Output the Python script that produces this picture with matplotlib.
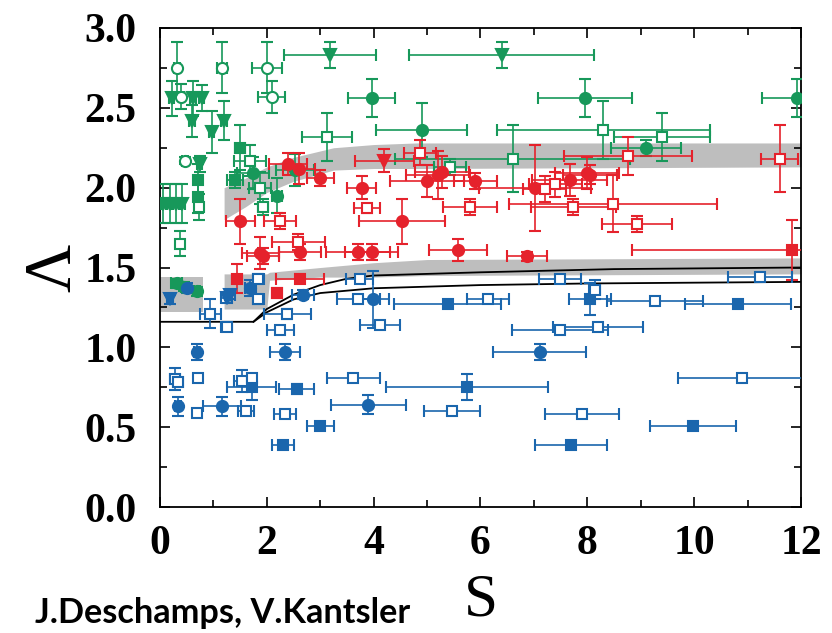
import numpy as np
import matplotlib
matplotlib.use('Agg')
import matplotlib.pyplot as plt
from matplotlib.ticker import MultipleLocator

# rows are (S, Lambda, dS, dLambda)
green_circle_open = [(0.32, 2.75, 0.05, 0.16), (1.16, 2.75, 0.10, 0.16), (2.00, 2.75, 0.28, 0.16),
                     (2.09, 2.57, 0.25, 0.10), (0.40, 2.57, 0.05, 0.08), (0.47, 2.17, 0.05, 0.02)]
green_tri = [(3.18, 2.83, 0.86, 0.08), (6.40, 2.83, 1.73, 0.08), (0.22, 2.56, 0.05, 0.11),
             (0.62, 2.56, 0.05, 0.11), (0.78, 2.56, 0.05, 0.08), (0.60, 2.42, 0.05, 0.10),
             (0.97, 2.35, 0.05, 0.13), (1.20, 2.42, 0.05, 0.12), (0.74, 2.15, 0.05, 0.05),
             (0.06, 1.90, 0.05, 0.12), (0.18, 1.90, 0.05, 0.12), (0.30, 1.90, 0.05, 0.12),
             (0.42, 1.90, 0.05, 0.12)]
green_circle = [(3.96, 2.56, 0.44, 0.12), (7.96, 2.56, 0.88, 0.12), (11.92, 2.56, 0.65, 0.12),
                (4.90, 2.36, 0.85, 0.17), (9.10, 2.25, 0.65, 0.05), (2.19, 1.95, 0.10, 0.11),
                (2.53, 2.11, 0.35, 0.10), (1.75, 2.09, 0.30, 0.10), (0.31, 1.40, 0.10, 0.03),
                (0.45, 1.38, 0.05, 0.03), (0.69, 1.35, 0.05, 0.03)]
green_square = [(1.50, 2.25, 0.10, 0.14), (1.40, 2.05, 0.15, 0.05), (0.71, 2.05, 0.05, 0.10),
                (0.71, 1.94, 0.05, 0.10)]
green_square_open = [(3.12, 2.32, 0.47, 0.15), (1.69, 2.17, 0.30, 0.10), (1.87, 2.00, 0.20, 0.10),
                     (0.73, 1.88, 0.05, 0.08), (1.93, 1.88, 0.10, 0.05), (0.37, 1.65, 0.03, 0.08),
                     (8.30, 2.36, 2.00, 0.18), (9.40, 2.32, 0.90, 0.15), (6.60, 2.18, 2.20, 0.21),
                     (5.43, 2.13, 0.30, 0.05)]

red_circle = [(2.40, 2.15, 0.35, 0.07), (2.60, 2.12, 0.30, 0.10), (3.00, 2.06, 0.25, 0.05),
              (3.78, 2.00, 0.27, 0.07), (1.50, 1.79, 0.27, 0.14), (4.53, 1.79, 0.80, 0.14),
              (1.88, 1.59, 0.35, 0.10), (1.93, 1.57, 0.30, 0.05), (2.62, 1.60, 0.40, 0.05),
              (3.70, 1.60, 0.60, 0.05), (3.96, 1.60, 0.50, 0.05), (5.00, 2.04, 0.70, 0.10),
              (5.20, 2.08, 0.60, 0.15), (5.28, 2.10, 0.50, 0.10), (5.90, 2.04, 0.40, 0.05),
              (7.02, 2.00, 1.05, 0.27), (7.67, 2.05, 0.70, 0.10), (7.99, 2.09, 0.60, 0.10),
              (8.05, 2.08, 0.50, 0.06), (5.58, 1.61, 0.55, 0.07), (6.87, 1.57, 0.38, 0.03)]
red_tri = [(4.20, 2.17, 0.55, 0.07)]
red_square = [(1.44, 1.43, 0.10, 0.09), (2.62, 1.43, 0.45, 0.03), (2.19, 1.34, 0.10, 0.03),
              (11.83, 1.61, 3.00, 0.19)]
red_square_open = [(2.25, 1.79, 0.30, 0.05), (3.87, 1.87, 0.24, 0.03), (2.59, 1.66, 0.50, 0.05),
                   (4.87, 2.22, 0.30, 0.08), (7.20, 1.99, 0.40, 0.08), (7.40, 2.02, 0.50, 0.08),
                   (8.76, 2.20, 1.20, 0.12), (11.60, 2.18, 0.35, 0.21), (8.48, 1.90, 1.95, 0.18),
                   (7.74, 1.88, 0.80, 0.05), (5.80, 1.88, 0.50, 0.05), (8.93, 1.77, 0.65, 0.05)]

blue_circle = [(0.50, 1.37, 0.05, 0.03), (1.69, 1.37, 0.10, 0.05), (2.68, 1.33, 0.20, 0.03),
               (3.99, 1.30, 0.30, 0.18), (0.69, 0.97, 0.05, 0.05), (2.34, 0.97, 0.28, 0.05),
               (0.34, 0.63, 0.05, 0.06), (1.16, 0.63, 0.35, 0.06), (3.90, 0.64, 0.70, 0.06),
               (7.11, 0.97, 0.87, 0.05)]
blue_tri = [(0.19, 1.30, 0.05, 0.03), (1.25, 1.31, 0.10, 0.03), (1.31, 1.33, 0.10, 0.03)]
blue_square = [(1.72, 0.75, 0.46, 0.08), (2.56, 0.74, 0.33, 0.03), (3.00, 0.51, 0.25, 0.02),
               (2.30, 0.39, 0.20, 0.02), (5.39, 1.27, 1.00, 0.02), (8.05, 1.30, 0.40, 0.10),
               (5.75, 0.75, 1.52, 0.08), (10.82, 1.27, 1.00, 0.02), (9.98, 0.51, 0.80, 0.02),
               (7.69, 0.39, 0.67, 0.02)]
blue_square_open = [(1.84, 1.43, 0.10, 0.03), (1.84, 1.30, 0.10, 0.03), (0.94, 1.21, 0.20, 0.09),
                    (1.25, 1.13, 0.10, 0.02), (2.38, 1.21, 0.44, 0.03), (2.25, 1.11, 0.25, 0.02),
                    (3.74, 1.43, 0.25, 0.02), (3.71, 1.30, 0.40, 0.02), (4.12, 1.14, 0.37, 0.02),
                    (0.28, 0.80, 0.10, 0.07), (0.34, 0.78, 0.10, 0.02), (0.71, 0.81, 0.03, 0.02),
                    (1.53, 0.79, 0.15, 0.07), (1.72, 0.81, 0.05, 0.02), (0.69, 0.59, 0.03, 0.02),
                    (1.61, 0.60, 0.15, 0.02), (2.34, 0.58, 0.20, 0.02), (3.62, 0.81, 0.50, 0.02),
                    (7.49, 1.43, 0.40, 0.02), (6.14, 1.30, 0.40, 0.02), (8.14, 1.36, 0.10, 0.06),
                    (7.49, 1.11, 0.90, 0.02), (8.20, 1.13, 0.85, 0.02), (5.47, 0.60, 0.52, 0.02),
                    (7.90, 0.58, 0.70, 0.02), (11.23, 1.44, 0.60, 0.02), (9.27, 1.29, 0.90, 0.02),
                    (10.89, 0.81, 1.20, 0.02)]

# grey bands
band_up_S = [1.2, 1.6, 2.0, 2.5, 3.25, 4.0, 4.8, 12.0]
band_up_lo = [1.80, 1.88, 1.97, 2.04, 2.11, 2.12, 2.12, 2.13]
band_up_hi = [2.00, 2.06, 2.13, 2.19, 2.25, 2.27, 2.28, 2.28]
band_left_S = [0.0, 0.8]
band_left_lo = [1.22, 1.22]
band_left_hi = [1.44, 1.44]
band_low_S = [1.2, 2.0, 2.05, 3.0, 4.0, 5.0, 12.0]
band_low_lo = [1.24, 1.24, 1.42, 1.44, 1.44, 1.45, 1.46]
band_low_hi = [1.46, 1.46, 1.47, 1.50, 1.53, 1.55, 1.56]

# black model curves
line1_S = [0.0, 1.75, 2.0, 2.5, 3.0, 3.5, 4.0, 5.0, 6.0, 8.5, 12.0]
line1_L = [1.16, 1.16, 1.24, 1.33, 1.39, 1.43, 1.45, 1.46, 1.47, 1.49, 1.50]
line2_S = [1.75, 2.0, 2.5, 3.0, 4.0, 5.0, 6.0, 8.0, 12.0]
line2_L = [1.16, 1.22, 1.30, 1.34, 1.37, 1.38, 1.39, 1.40, 1.41]

GREEN = '#17985a'
RED = '#e5222c'
BLUE = '#1a66ad'

fig = plt.figure(figsize=(8.32, 6.33), dpi=100)
ax = fig.add_axes([0.1923, 0.199, 0.7704, 0.7568])

grey = '#bebebe'
ax.fill_between(band_up_S, band_up_lo, band_up_hi, color=grey, lw=0, zorder=1)
ax.fill_between(band_left_S, band_left_lo, band_left_hi, color=grey, lw=0, zorder=1)
ax.fill_between(band_low_S, band_low_lo, band_low_hi, color=grey, lw=0, zorder=1)
ax.plot(line1_S, line1_L, color='black', lw=1.3, zorder=2)
ax.plot(line2_S, line2_L, color='black', lw=1.3, zorder=2)

groups = [
    (green_circle_open, GREEN, 'o', False, 8),
    (green_tri, GREEN, 'v', True, 8),
    (green_circle, GREEN, 'o', True, 8),
    (green_square, GREEN, 's', True, 7),
    (green_square_open, GREEN, 's', False, 7),
    (red_circle, RED, 'o', True, 8),
    (red_tri, RED, 'v', True, 8),
    (red_square, RED, 's', True, 7),
    (red_square_open, RED, 's', False, 7),
    (blue_circle, BLUE, 'o', True, 8),
    (blue_tri, BLUE, 'v', True, 8),
    (blue_square, BLUE, 's', True, 7),
    (blue_square_open, BLUE, 's', False, 7),
]
for rows, color, marker, filled, ms in groups:
    arr = np.array(rows)
    ax.errorbar(arr[:, 0], arr[:, 1], xerr=arr[:, 2], yerr=arr[:, 3],
                fmt=marker, color=color, ecolor=color, ms=ms,
                mfc=color if filled else 'white', mec=color, mew=1.5,
                elinewidth=1.2, capsize=4, capthick=1.2, zorder=3)

ax.set_xlim(0, 12)
ax.set_ylim(0, 3.0)
ax.xaxis.set_major_locator(MultipleLocator(2))
ax.xaxis.set_minor_locator(MultipleLocator(1))
ax.yaxis.set_major_locator(MultipleLocator(0.5))
ax.yaxis.set_minor_locator(MultipleLocator(0.25))
ax.yaxis.set_major_formatter(plt.FuncFormatter(lambda v, p: '{:.1f}'.format(v)))
ax.tick_params(which='both', direction='in', top=True, right=True, width=1.2)
ax.tick_params(which='major', length=7)
ax.tick_params(which='minor', length=5)
ax.tick_params(axis='x', which='major', pad=13)
ax.tick_params(axis='y', which='major', pad=17)
for lab in ax.get_xticklabels():
    lab.set_fontfamily('Liberation Serif')
    lab.set_fontweight('bold')
    lab.set_fontsize(30)
for lab in ax.get_yticklabels():
    lab.set_fontfamily('Liberation Serif')
    lab.set_fontweight('bold')
    lab.set_fontsize(30)
for sp in ax.spines.values():
    sp.set_linewidth(1.3)

ax.set_xlabel('S', family='Liberation Serif', fontsize=44, labelpad=7)
ax.set_ylabel('Λ', family='Liberation Serif', fontsize=48, labelpad=0)

fig.text(0.042, 0.016, 'J.Deschamps, V.Kantsler', family='Lato', fontweight='bold',
         fontsize=24.7, ha='left', va='baseline')

fig.savefig('out.png', dpi=100)
